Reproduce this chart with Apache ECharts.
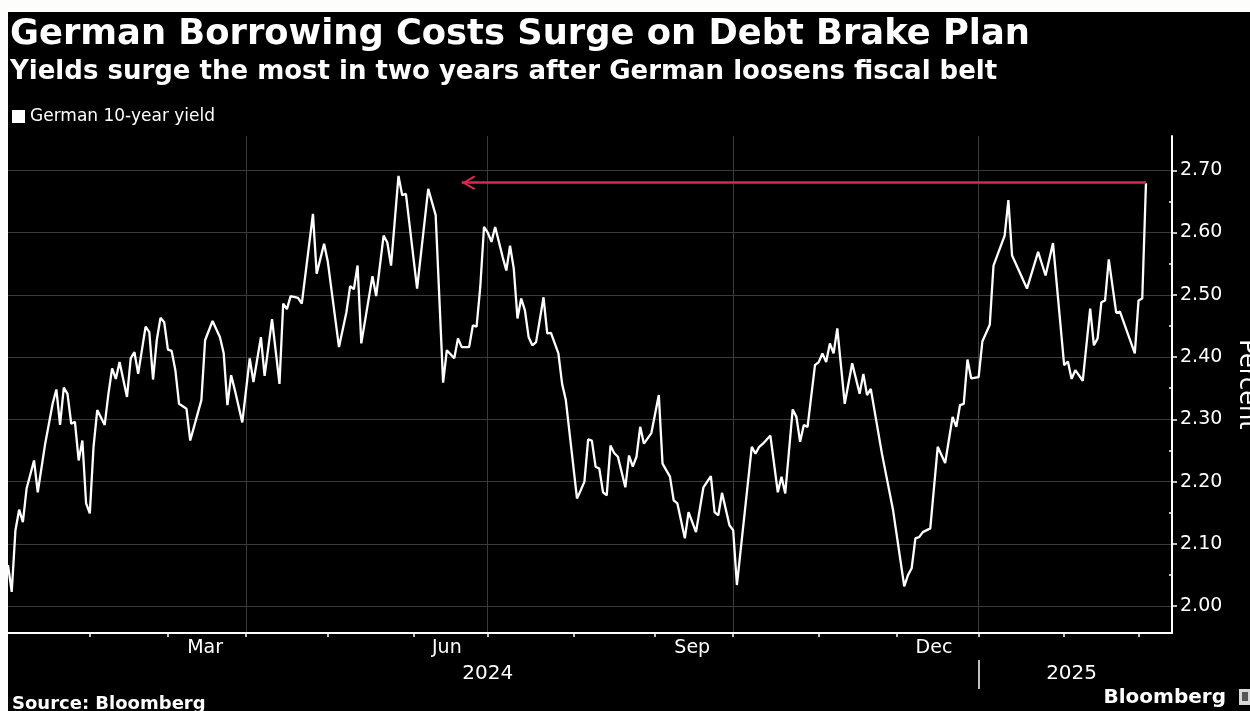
<!DOCTYPE html>
<html><head><meta charset="utf-8">
<script src="https://cdn.jsdelivr.net/npm/echarts@6/dist/echarts.min.js"></script>
<style>
html,body{margin:0;padding:0;background:#fdfdfb;width:1250px;height:711px;overflow:hidden;}
#chart{position:absolute;left:8px;top:12px;width:1242px;height:699px;background:#000;}
</style></head><body><div id="chart"></div>
<script>
const titleText = 'German Borrowing Costs Surge on Debt Brake Plan';
const subtitleText = 'Yields surge the most in two years after German loosens fiscal belt';
const seriesName = 'German 10-year yield';
const sourceText = 'Source: Bloomberg';
const brandText = 'Bloomberg';
const yAxisName = 'Percent';

const axisStart = '2024-01-02';
const axisEnd = '2025-03-14';
const yMin = 1.957, yMax = 2.755;
const yTicks = [2.00, 2.10, 2.20, 2.30, 2.40, 2.50, 2.60, 2.70];
const yMinorTicks = [2.05, 2.15, 2.25, 2.35, 2.45, 2.55, 2.65];
const monthLabels = {'2024-03-15': 'Mar', '2024-06-14': 'Jun', '2024-09-16': 'Sep', '2024-12-16': 'Dec'};
const yearLabels = {'2024-07-01': '2024', '2025-02-05': '2025'};
const quarterLines = ['2024-04-01', '2024-07-01', '2024-10-01', '2025-01-01'];
const yearBreak = '2025-01-01';

const dates = [
'2024-01-02','2024-01-03','2024-01-04','2024-01-05','2024-01-08','2024-01-09','2024-01-11','2024-01-12','2024-01-16','2024-01-18',
'2024-01-19','2024-01-22','2024-01-23','2024-01-24','2024-01-25','2024-01-26','2024-01-29','2024-01-30','2024-01-31','2024-02-01',
'2024-02-02','2024-02-05','2024-02-07','2024-02-08','2024-02-09','2024-02-12','2024-02-13','2024-02-15','2024-02-16','2024-02-19',
'2024-02-20','2024-02-22','2024-02-23','2024-02-26','2024-02-27','2024-02-28','2024-02-29','2024-03-01','2024-03-04','2024-03-05',
'2024-03-06','2024-03-08','2024-03-11','2024-03-14','2024-03-15','2024-03-19','2024-03-21','2024-03-22','2024-03-25','2024-03-26',
'2024-03-27','2024-03-29','2024-04-02','2024-04-03','2024-04-05','2024-04-08','2024-04-10','2024-04-12','2024-04-15','2024-04-16',
'2024-04-17','2024-04-19','2024-04-22','2024-04-25','2024-04-26','2024-04-30','2024-05-01','2024-05-06','2024-05-08','2024-05-09',
'2024-05-10','2024-05-13','2024-05-14','2024-05-17','2024-05-20','2024-05-22','2024-05-23','2024-05-24','2024-05-28','2024-05-29',
'2024-05-30','2024-06-04','2024-06-07','2024-06-11','2024-06-13','2024-06-14','2024-06-18','2024-06-19','2024-06-20','2024-06-24',
'2024-06-25','2024-06-26','2024-06-27','2024-06-28','2024-07-01','2024-07-02','2024-07-03','2024-07-05','2024-07-08','2024-07-09',
'2024-07-10','2024-07-11','2024-07-12','2024-07-15','2024-07-16','2024-07-17','2024-07-18','2024-07-22','2024-07-23','2024-07-24',
'2024-07-26','2024-07-29','2024-07-30','2024-08-02','2024-08-05','2024-08-06','2024-08-07','2024-08-08','2024-08-09','2024-08-12',
'2024-08-13','2024-08-14','2024-08-15','2024-08-16','2024-08-19','2024-08-21','2024-08-22','2024-08-23','2024-08-26','2024-08-27',
'2024-08-28','2024-08-30','2024-09-03','2024-09-04','2024-09-06','2024-09-09','2024-09-10','2024-09-12','2024-09-13','2024-09-17',
'2024-09-19','2024-09-23','2024-09-24','2024-09-25','2024-09-26','2024-09-30','2024-10-01','2024-10-02','2024-10-08','2024-10-09',
'2024-10-10','2024-10-11','2024-10-15','2024-10-17','2024-10-18','2024-10-21','2024-10-23','2024-10-24','2024-10-25','2024-10-28',
'2024-10-29','2024-10-31','2024-11-01','2024-11-04','2024-11-05','2024-11-06','2024-11-07','2024-11-08','2024-11-12','2024-11-14',
'2024-11-18','2024-11-19','2024-11-20','2024-11-21','2024-11-26','2024-11-29','2024-12-04','2024-12-05','2024-12-06','2024-12-09',
'2024-12-10','2024-12-11','2024-12-13','2024-12-17','2024-12-19','2024-12-23','2024-12-24','2024-12-25','2024-12-26','2024-12-27',
'2024-12-30','2025-01-01','2025-01-02','2025-01-06','2025-01-07','2025-01-10','2025-01-13','2025-01-14','2025-01-20','2025-01-23',
'2025-01-27','2025-01-29','2025-02-03','2025-02-04','2025-02-05','2025-02-06','2025-02-10','2025-02-12','2025-02-13','2025-02-14',
'2025-02-17','2025-02-18','2025-02-19','2025-02-21','2025-02-24','2025-02-28','2025-03-03','2025-03-04','2025-03-05'
];
const yields = [
2.066,2.023,2.122,2.155,2.135,2.189,2.234,2.183,2.261,2.325,
2.348,2.291,2.351,2.341,2.293,2.296,2.234,2.266,2.165,2.149,
2.256,2.315,2.291,2.341,2.382,2.365,2.392,2.336,2.398,2.408,
2.373,2.449,2.440,2.364,2.427,2.463,2.456,2.412,2.410,2.379,
2.325,2.317,2.266,2.331,2.427,2.458,2.432,2.406,2.323,2.371,
2.347,2.295,2.398,2.360,2.432,2.370,2.461,2.357,2.486,2.477,
2.498,2.495,2.486,2.630,2.534,2.582,2.553,2.416,2.472,2.514,
2.509,2.547,2.422,2.530,2.498,2.595,2.584,2.547,2.691,2.660,
2.662,2.510,2.670,2.628,2.359,2.411,2.398,2.430,2.416,2.416,
2.451,2.449,2.513,2.609,2.600,2.585,2.609,2.561,2.539,2.579,
2.542,2.462,2.494,2.475,2.432,2.419,2.424,2.496,2.438,2.439,
2.406,2.357,2.331,2.173,2.186,2.200,2.268,2.266,2.224,2.221,
2.183,2.178,2.258,2.246,2.240,2.191,2.242,2.224,2.240,2.288,
2.261,2.278,2.339,2.229,2.208,2.170,2.165,2.109,2.151,2.119,
2.191,2.209,2.151,2.146,2.182,2.130,2.122,2.034,2.256,2.245,
2.256,2.261,2.274,2.183,2.208,2.181,2.316,2.304,2.264,2.291,
2.288,2.387,2.392,2.406,2.392,2.422,2.406,2.446,2.325,2.390,
2.341,2.373,2.339,2.349,2.245,2.154,2.032,2.050,2.061,2.109,
2.111,2.119,2.125,2.256,2.230,2.304,2.288,2.323,2.325,2.396,
2.366,2.368,2.425,2.452,2.547,2.595,2.652,2.563,2.510,2.569,
2.531,2.583,2.387,2.393,2.365,2.379,2.362,2.478,2.419,2.430,
2.488,2.491,2.557,2.471,2.473,2.406,2.491,2.494,2.679
];
const arrowLevel = 2.68;
const arrowFrom = '2025-03-05';
const arrowTo = '2024-06-20';

function weekdays(a, b) {
  const out = [];
  let d = new Date(a + 'T00:00:00Z');
  const e = new Date(b + 'T00:00:00Z');
  while (d <= e) {
    const w = d.getUTCDay();
    if (w !== 0 && w !== 6) out.push(d.toISOString().slice(0, 10));
    d = new Date(d.getTime() + 86400000);
  }
  return out;
}
const categories = weekdays(axisStart, axisEnd);
const seriesData = dates.map((d, i) => [d, yields[i]]);

const FONT = 'DejaVu Sans';
const WHITE = '#ffffff';
const GRID = '#3a3a3a';
const RED = '#d8284f';

// chevron pointing "up" with an invisible point so the symbol centre sits on the tip
const chevron = 'path://M0,-14L0.01,-14L0,-13.99Z M0,0L12,12L10,14L0,4L-10,14L-12,12Z';

const chart = echarts.init(document.getElementById('chart'), null, {renderer: 'canvas'});
chart.setOption({
  backgroundColor: '#000',
  animation: false,
  title: [
    {text: titleText, left: 2, top: 5, padding: 0,
     textStyle: {color: WHITE, fontFamily: FONT, fontWeight: 'bold', fontSize: 35.3}},
    {text: subtitleText, left: 2, top: 47, padding: 0,
     textStyle: {color: WHITE, fontFamily: FONT, fontWeight: 'bold', fontSize: 26}},
    {text: sourceText, left: 4, top: 683, padding: 0,
     textStyle: {color: WHITE, fontFamily: FONT, fontWeight: 'bold', fontSize: 18}},
    {text: brandText, right: 24, top: 676, padding: 0,
     textStyle: {color: WHITE, fontFamily: FONT, fontWeight: 'bold', fontSize: 20}}
  ],
  legend: {
    left: 4, top: 96, padding: 0, icon: 'rect', itemWidth: 13, itemHeight: 13,
    selectedMode: false,
    textStyle: {color: WHITE, fontFamily: FONT, fontSize: 17},
    data: [seriesName]
  },
  grid: {left: 0, right: 78, top: 124, bottom: 78, containLabel: false, outerBoundsMode: 'none'},
  xAxis: [
    {
      type: 'category', data: categories, boundaryGap: false,
      axisLine: {show: true, lineStyle: {color: WHITE, width: 2}},
      axisTick: {show: true, length: 4, lineStyle: {color: WHITE, width: 1.5},
        interval: (idx) => idx > 0 && categories[idx].slice(5, 7) !== categories[idx - 1].slice(5, 7)},
      axisLabel: {show: true, color: WHITE, fontFamily: FONT, fontSize: 19, margin: 6,
        interval: (idx, val) => monthLabels[val] !== undefined,
        formatter: (val) => monthLabels[val] || ''},
      splitLine: {show: true, lineStyle: {color: GRID, width: 1},
        interval: (idx, val) => quarterLines.indexOf(val) >= 0}
    },
    {
      type: 'category', data: categories, boundaryGap: false, position: 'bottom', offset: 27,
      axisLine: {show: false},
      axisTick: {show: true, length: 29, lineStyle: {color: WHITE, width: 1.5},
        interval: (idx, val) => val === yearBreak},
      axisLabel: {show: true, color: WHITE, fontFamily: FONT, fontSize: 20, margin: 4,
        interval: (idx, val) => yearLabels[val] !== undefined,
        formatter: (val) => yearLabels[val] || ''},
      splitLine: {show: false}
    }
  ],
  yAxis: [
    {
      type: 'value', position: 'right', min: yMin, max: yMax,
      name: yAxisName, nameLocation: 'middle', nameRotate: -90, nameGap: 62,
      nameTextStyle: {color: WHITE, fontFamily: FONT, fontSize: 24},
      axisLine: {show: true, lineStyle: {color: WHITE, width: 2}},
      axisTick: {show: true, length: 5, customValues: yTicks, lineStyle: {color: WHITE, width: 1.5}},
      axisLabel: {show: true, customValues: yTicks, color: WHITE, fontFamily: FONT, fontSize: 19, margin: 8,
        formatter: (v) => Number(v).toFixed(2)},
      splitLine: {show: true, lineStyle: {color: GRID, width: 1}}
    },
    {
      type: 'value', position: 'right', min: yMin, max: yMax,
      axisLine: {show: false},
      axisTick: {show: true, inside: true, length: 3, customValues: yMinorTicks, lineStyle: {color: WHITE, width: 1.5}},
      axisLabel: {show: false},
      splitLine: {show: false}
    }
  ],
  series: [{
    name: seriesName, type: 'line', data: seriesData, xAxisIndex: 0, yAxisIndex: 0,
    showSymbol: false, symbol: 'none', color: WHITE,
    lineStyle: {color: WHITE, width: 2.3},
    markLine: {
      silent: true, animation: false,
      label: {show: false},
      lineStyle: {color: RED, width: 2.5, type: 'solid'},
      data: [[
        {coord: [arrowFrom, arrowLevel], symbol: 'none'},
        {coord: [arrowTo, arrowLevel], symbol: chevron, symbolSize: [14, 28]}
      ]]
    }
  }],
  graphic: [
    {type: 'rect', right: 0, top: 677, shape: {width: 11, height: 16},
     style: {fill: '#d8d8d8'}},
    {type: 'rect', right: 2, top: 680, shape: {width: 6, height: 9},
     style: {fill: '#555'}}
  ]
});
</script></body></html>
